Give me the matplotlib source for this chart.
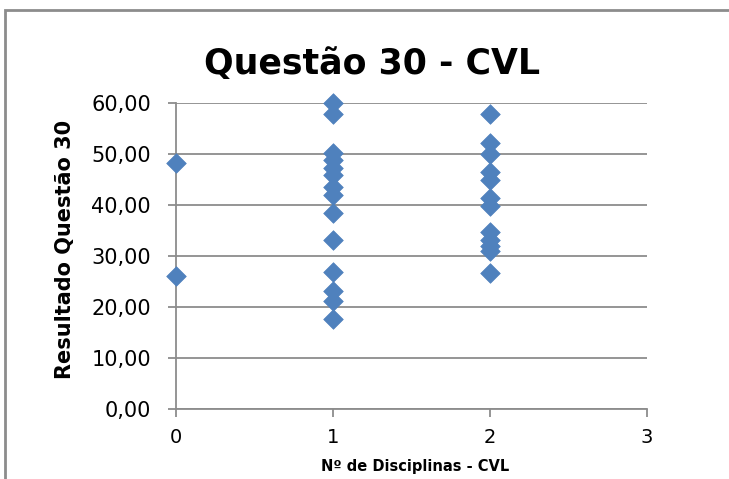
import matplotlib
matplotlib.use("Agg")
import matplotlib.pyplot as plt
from matplotlib.patches import Rectangle

# Scores per number of CVL courses taken
x_zero = [0, 0]
y_zero = [48.2, 26.1]

x_one = [1] * 14
y_one = [60.0, 57.8, 50.2, 48.8, 47.3, 45.9, 43.5, 42.0, 38.4, 33.1, 26.9, 23.2, 21.2, 17.6]

x_two = [2] * 12
y_two = [57.8, 52.2, 50.0, 46.4, 45.0, 41.4, 39.8, 34.8, 33.2, 32.0, 30.9, 26.6]

x_ticks = [0, 1, 2, 3]
y_ticks = [0, 10, 20, 30, 40, 50, 60]

xs = x_zero + x_one + x_two
ys = y_zero + y_one + y_two

plt.rcParams['font.family'] = ['DejaVu Sans']

fig = plt.figure(figsize=(7.29, 4.79), dpi=100)
fig.patch.set_facecolor("white")

# outer chart frame
fig.add_artist(Rectangle((5 / 729, -0.05), 1.2, 1 - 10 / 479 + 0.05, transform=fig.transFigure,
                         fill=False, edgecolor="#8c8c8c", linewidth=2.0))

ax = fig.add_axes([176 / 729, 70 / 479, (647 - 176) / 729, (409 - 103) / 479])

ax.scatter(xs, ys, marker="D", s=100, color="#4F81BD", edgecolors="#4F81BD",
           linewidths=0.5, zorder=3, clip_on=False)

ax.set_xlim(0, 3)
ax.set_ylim(0, 60)
ax.set_xticks(x_ticks)
ax.set_yticks(y_ticks)
ax.set_yticklabels([f"{v:.2f}".replace(".", ",") for v in y_ticks])

ax.grid(axis="y", color="#8c8c8c", linewidth=1.3, zorder=0)
for side in ("top", "right"):
    ax.spines[side].set_visible(False)
for side in ("left", "bottom"):
    ax.spines[side].set_color("#8c8c8c")
    ax.spines[side].set_linewidth(1.3)
ax.tick_params(axis="both", direction="out", length=6, width=1.3, color="#8c8c8c",
               labelsize=15)
ax.tick_params(axis="y", pad=12)
ax.tick_params(axis="x", labelsize=14, pad=8)

ax.set_xlabel("Nº de Disciplinas - CVL", fontsize=10.5, fontweight="bold", labelpad=10)
ax.xaxis.set_label_coords(0.507, -0.165)
ax.xaxis.label.set_va("top")
ax.set_ylabel("Resultado Questão 30", fontsize=15, fontweight="bold")
ax.yaxis.set_label_coords(-0.236, 0.523)
ax.yaxis.label.set_va("center")

fig.text(372 / 729, 1 - 64 / 479, "Questão 30 - CVL", ha="center", va="center",
         fontsize=25, fontweight="bold")

fig.savefig("out.png", dpi=100, facecolor="white")
